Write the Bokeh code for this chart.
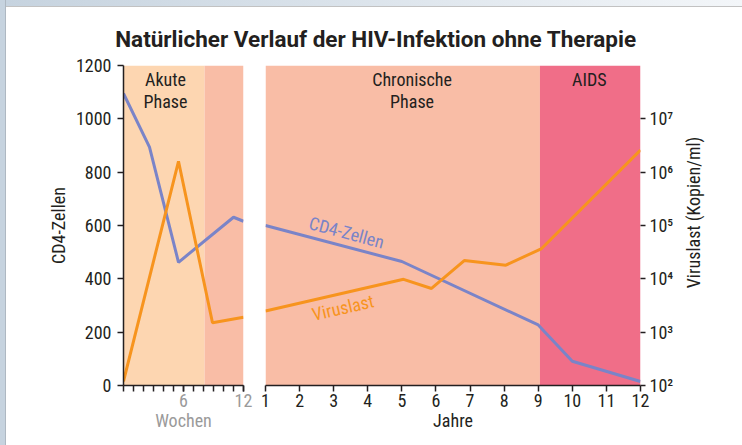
import numpy as np
from bokeh.plotting import figure
from bokeh.models import (Range1d, LogScale, LogAxis, FixedTicker,
                          CustomJSTickFormatter, Spacer)
from bokeh.layouts import column, row
from bokeh.embed import file_html
from bokeh.resources import INLINE
from bokeh.core.properties import value

# ---------------- data ----------------
TITLE = "Natürlicher Verlauf der HIV-Infektion ohne Therapie"
VL_LABEL = "Viruslast (Kopien/ml)"

# acute phase panel (weeks)
week_cd4_x = [0, 2.6, 5.5, 11.0, 12]
week_cd4_y = [1095, 894, 462, 631, 616]
week_vl_x = [0, 5.5, 8.9, 12]
week_vl_y = [1.2e2, 1.6e6, 1.5e3, 1.9e3]

# chronic / AIDS panel (years)
year_cd4_x = [1, 5, 9, 10, 12]
year_cd4_y = [600, 465, 227, 91, 15]
year_vl_x = [1, 5.05, 5.87, 6.83, 8.05, 9.1, 12]
year_vl_y = [2.5e3, 9.8e3, 6.6e3, 2.2e4, 1.8e4, 3.7e4, 2.6e6]

# phase background bands
week_band_left = [0, 8.1]
week_band_right = [8.1, 12]
week_band_color = ["#fdd6b1", "#f9bda6"]
year_band_left = [1, 9.05]
year_band_right = [9.05, 12]
year_band_color = ["#f9bda6", "#f06e88"]

phase_labels = ["Akute\nPhase", "Chronische\nPhase", "AIDS"]

cd4_ticks = [0, 200, 400, 600, 800, 1000, 1200]
week_ticks = [6, 12]
week_minor = list(range(0, 13))
year_ticks = list(range(1, 13))
vl_ticks = [1e2, 1e3, 1e4, 1e5, 1e6, 1e7]

# ---------------- style ----------------
FONT = "Roboto Condensed, Open Sans"
TITLE_FONT = "Roboto"
DARK = "#231f20"
GRAY = "#9a9a9a"
BLUE = "#7a84c8"
ORANGE = "#f7941e"
FS = "18px"


def style_axis(ax, label_color=DARK):
    ax.axis_line_color = DARK
    ax.axis_line_width = 1.5
    ax.major_tick_line_color = DARK
    ax.minor_tick_line_color = DARK
    ax.major_tick_line_width = 1.5
    ax.minor_tick_line_width = 1.5
    ax.major_tick_in = 0
    ax.major_tick_out = 6
    ax.minor_tick_in = 0
    ax.minor_tick_out = 6
    ax.major_label_text_font = FONT
    ax.major_label_text_font_size = FS
    ax.major_label_text_color = label_color
    ax.axis_label_text_font = FONT
    ax.axis_label_text_font_size = FS
    ax.axis_label_text_font_style = "normal"
    ax.axis_label_text_color = label_color


def bare_figure(width, height, xr, yr):
    f = figure(width=width, height=height, x_range=Range1d(*xr), y_range=Range1d(*yr),
               output_backend="svg", toolbar_location=None, title=None,
               x_axis_location=None, y_axis_location=None, min_border=0,
               outline_line_color=None)
    f.grid.visible = False
    return f


# ---------------- frame strips ----------------
left_strip = Spacer(width=6, height=445, styles={
    "background": "linear-gradient(to right, #c6d3df 0px, #c6d3df 5px, #aeb8c2 5px, #aeb8c2 6px)"})
top_strip = Spacer(width=736, height=7, styles={
    "background": "linear-gradient(to bottom, rgba(0,0,0,0) 0px, rgba(0,0,0,0) 6px, #c2c2c2 6px, #c2c2c2 7px), "
                  "linear-gradient(to right, #c6d3df, #f3f6f9)"})

# ---------------- header ----------------
head = bare_figure(736, 46, (0, 1), (0, 1))
head.text(x=[0.502], y=[0.326], text=[TITLE], text_font=value(TITLE_FONT),
          text_font_size="22.5px", text_font_style="bold", text_color=DARK,
          text_align="center", text_baseline="middle")

# ---------------- weeks panel ----------------
f1 = figure(width=248, height=392, x_range=Range1d(0, 12), y_range=Range1d(0, 1200),
            output_backend="svg", toolbar_location=None, title=None,
            min_border_left=117, min_border_right=11, min_border_top=12,
            min_border_bottom=60, outline_line_color=None)
f1.grid.visible = False
f1.extra_y_ranges = {"vl": Range1d(1e2, 1e8)}
f1.extra_y_scales = {"vl": LogScale()}

f1.quad(left=week_band_left, right=week_band_right, bottom=0, top=1200,
        fill_color=week_band_color, line_color=None)
f1.line(week_cd4_x, week_cd4_y, line_color=BLUE, line_width=3)
f1.line(week_vl_x, week_vl_y, line_color=ORANGE, line_width=3, y_range_name="vl")
f1.text(x=[4.2], y=[1187], text=[phase_labels[0]], text_font=value(FONT),
        text_font_size=FS, text_color=DARK, text_align="center",
        text_baseline="top", text_line_height=1.05)

f1.xaxis.ticker = FixedTicker(ticks=week_ticks, minor_ticks=week_minor)
f1.yaxis.ticker = FixedTicker(ticks=cd4_ticks, minor_ticks=[])
style_axis(f1.xaxis[0], label_color=GRAY)
style_axis(f1.yaxis[0])
f1.xaxis.axis_label = "Wochen"
f1.xaxis.major_label_standoff = 2
f1.xaxis.axis_label_standoff = 0
f1.yaxis.axis_label = "CD4-Zellen"
f1.yaxis.major_label_standoff = 6
f1.yaxis.axis_label_standoff = 4

# ---------------- years panel ----------------
f2 = figure(width=426, height=392, x_range=Range1d(1, 12), y_range=Range1d(0, 1200),
            output_backend="svg", toolbar_location=None, title=None,
            y_axis_location=None,
            min_border_left=11, min_border_right=40, min_border_top=12,
            min_border_bottom=60, outline_line_color=None)
f2.grid.visible = False
f2.extra_y_ranges = {"vl": Range1d(1e2, 1e8)}
f2.extra_y_scales = {"vl": LogScale()}

f2.quad(left=year_band_left, right=year_band_right, bottom=0, top=1200,
        fill_color=year_band_color, line_color=None)
f2.line(year_cd4_x, year_cd4_y, line_color=BLUE, line_width=3)
f2.line(year_vl_x, year_vl_y, line_color=ORANGE, line_width=3, y_range_name="vl")
f2.text(x=[5.3, 10.5], y=[1187, 1187], text=phase_labels[1:], text_font=value(FONT),
        text_font_size=FS, text_color=DARK, text_align="center",
        text_baseline="top", text_line_height=1.05)
f2.text(x=[3.38], y=[574], text=["CD4-Zellen"], angle=-15, angle_units="deg",
        text_font=value(FONT), text_font_size=FS, text_color=BLUE,
        text_align="center", text_baseline="middle")
f2.text(x=[3.27], y=[292], text=["Viruslast"], angle=13, angle_units="deg",
        text_font=value(FONT), text_font_size=FS, text_color=ORANGE,
        text_align="center", text_baseline="middle")

f2.xaxis.ticker = FixedTicker(ticks=year_ticks, minor_ticks=[])
style_axis(f2.xaxis[0])
f2.xaxis.axis_label = "Jahre"
f2.xaxis.major_label_standoff = 2
f2.xaxis.axis_label_standoff = 0

sup_code = """
const sup = {"0":"\u2070","1":"\u00b9","2":"\u00b2","3":"\u00b3","4":"\u2074",
             "5":"\u2075","6":"\u2076","7":"\u2077","8":"\u2078","9":"\u2079"};
const e = Math.round(Math.log10(tick));
return "10" + String(e).split("").map(c => sup[c]).join("");
"""
vl_axis = LogAxis(y_range_name="vl", ticker=FixedTicker(ticks=vl_ticks, minor_ticks=[]),
                  formatter=CustomJSTickFormatter(code=sup_code))
style_axis(vl_axis)
vl_axis.axis_line_color = None
vl_axis.major_tick_out = 5
vl_axis.major_label_standoff = 4
f2.add_layout(vl_axis, "right")

# ---------------- right axis title (reads bottom to top) ----------------
f3 = bare_figure(62, 392, (0, 62), (0, 392))
f3.text(x=[13], y=[212], text=[VL_LABEL], angle=90, angle_units="deg",
        text_font=value(FONT), text_font_size=FS, text_color=DARK,
        text_align="center", text_baseline="middle")

layout = row(left_strip, column(top_strip, head, row(f1, f2, f3)))
open("out.html", "w").write(file_html(layout, INLINE))
